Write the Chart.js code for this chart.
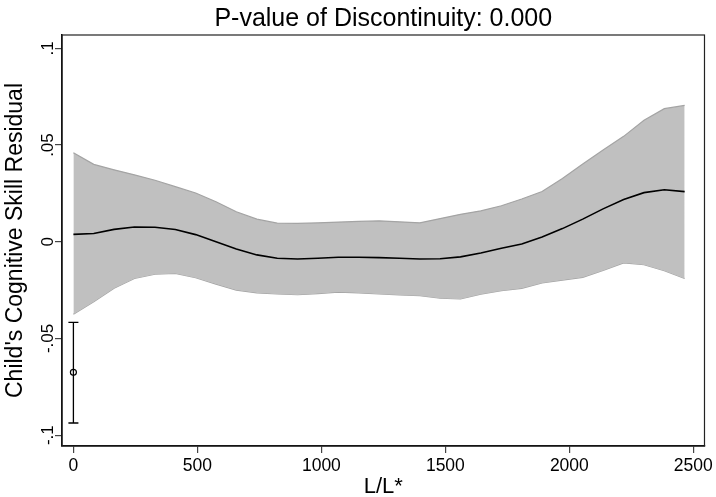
<!DOCTYPE html>
<html>
<head>
<meta charset="utf-8">
<script src="https://cdn.jsdelivr.net/npm/chart.js@4.4.1/dist/chart.umd.min.js"></script>
<style>
  html, body { margin: 0; padding: 0; background: #fff; }
  #wrap { width: 716px; height: 497px; }
</style>
</head>
<body>
<div id="wrap"><canvas id="rd"></canvas></div>
<script>
// evaluation grid of the local fit (L/L*)
const xGrid = [0, 82, 164, 246, 329, 411, 493, 575, 657, 740, 822, 904, 986, 1068, 1150,
  1233, 1315, 1397, 1479, 1561, 1643, 1726, 1808, 1890, 1972, 2054, 2136, 2219, 2301, 2383, 2465];
const fitMean = [0.0038, 0.0043, 0.0064, 0.0076, 0.0075, 0.0063, 0.0037, 0.0000, -0.0038, -0.0068,
  -0.0085, -0.0089, -0.0085, -0.0080, -0.0080, -0.0082, -0.0085, -0.0089, -0.0088, -0.0078,
  -0.0058, -0.0034, -0.0012, 0.0025, 0.0068, 0.0117, 0.0170, 0.0218, 0.0254, 0.0269, 0.0259];
const ciUpper = [0.0460, 0.0400, 0.0372, 0.0346, 0.0318, 0.0285, 0.0252, 0.0207, 0.0155, 0.0117,
  0.0096, 0.0095, 0.0098, 0.0102, 0.0105, 0.0108, 0.0103, 0.0098, 0.0120, 0.0142,
  0.0160, 0.0186, 0.0221, 0.0260, 0.0327, 0.0402, 0.0475, 0.0545, 0.0628, 0.0688, 0.0705];
const ciLower = [-0.0375, -0.0310, -0.0240, -0.0190, -0.0168, -0.0164, -0.0186, -0.0219, -0.0250, -0.0264,
  -0.0270, -0.0274, -0.0268, -0.0260, -0.0264, -0.0270, -0.0275, -0.0279, -0.0292, -0.0296,
  -0.0271, -0.0253, -0.0241, -0.0213, -0.0198, -0.0184, -0.0148, -0.0109, -0.0119, -0.0150, -0.0190];

// discontinuity estimate at the cutoff with its interval
const jumpX = [0];
const jumpEst = [-0.0675];
const jumpLo = [-0.0937];
const jumpHi = [-0.0417];

const xTicks = [0, 500, 1000, 1500, 2000, 2500];
const yTicks = [-0.1, -0.05, 0, 0.05, 0.1];
const yTickLabels = ['-.1', '-.05', '0', '.05', '.1'];

const FONT = 'Liberation Sans, Arial, Helvetica, sans-serif';

const pts = ys => xGrid.map((x, i) => ({ x: x, y: ys[i] }));

// whisker for the jump estimate, box around the plot region, rotated y tick labels
const extras = {
  id: 'extras',
  beforeDatasetsDraw(chart) {
    const { ctx, chartArea: a } = chart;
    ctx.save();
    ctx.strokeStyle = '#222';
    ctx.lineWidth = 1.2;
    ctx.strokeRect(a.left, a.top, a.right - a.left, a.bottom - a.top);
    ctx.restore();
  },
  afterDatasetsDraw(chart) {
    const { ctx, scales: { x, y } } = chart;
    ctx.save();
    ctx.strokeStyle = '#000';
    ctx.lineWidth = 1.3;
    jumpX.forEach((jx, i) => {
      const px = x.getPixelForValue(jx);
      const lo = y.getPixelForValue(jumpLo[i]);
      const hi = y.getPixelForValue(jumpHi[i]);
      ctx.beginPath();
      ctx.moveTo(px, lo); ctx.lineTo(px, hi);
      ctx.moveTo(px - 5, lo); ctx.lineTo(px + 5, lo);
      ctx.moveTo(px - 5, hi); ctx.lineTo(px + 5, hi);
      ctx.stroke();
    });
    ctx.restore();
  },
  afterDraw(chart) {
    const { ctx, scales: { y } } = chart;
    ctx.save();
    ctx.fillStyle = '#000';
    ctx.font = '17px ' + FONT;
    ctx.textAlign = 'center';
    ctx.textBaseline = 'alphabetic';
    yTicks.forEach((v, i) => {
      ctx.save();
      ctx.translate(53, y.getPixelForValue(v));
      ctx.rotate(-Math.PI / 2);
      ctx.fillText(yTickLabels[i], 0, 0);
      ctx.restore();
    });
    ctx.restore();
  }
};

new Chart(document.getElementById('rd'), {
  type: 'line',
  data: {
    datasets: [
      {
        label: 'upper',
        data: pts(ciUpper),
        borderColor: '#a4a4a4',
        borderWidth: 1.2,
        backgroundColor: '#c0c0c0',
        fill: '+1',
        pointRadius: 0,
        tension: 0,
        order: 3
      },
      {
        label: 'lower',
        data: pts(ciLower),
        borderColor: '#a4a4a4',
        borderWidth: 1.2,
        pointRadius: 0,
        fill: false,
        tension: 0,
        order: 3
      },
      {
        label: 'fit',
        data: pts(fitMean),
        borderColor: '#000',
        borderWidth: 1.6,
        pointRadius: 0,
        fill: false,
        tension: 0,
        order: 2
      },
      {
        label: 'jump',
        data: jumpX.map((x, i) => ({ x: x, y: jumpEst[i] })),
        showLine: false,
        pointStyle: 'circle',
        pointRadius: 3,
        pointBorderWidth: 1.2,
        pointBorderColor: '#000',
        pointBackgroundColor: 'rgba(0,0,0,0)',
        order: 1
      }
    ]
  },
  options: {
    responsive: true,
    maintainAspectRatio: false,
    animation: false,
    events: [],
    layout: { padding: { left: 0, right: 11, top: 0, bottom: 0 } },
    plugins: {
      legend: { display: false },
      tooltip: { enabled: false },
      title: {
        display: true,
        fullSize: false,
        text: 'P-value of Discontinuity: 0.000',
        color: '#000',
        font: { family: FONT, size: 25, weight: 'normal', lineHeight: 1.2 },
        padding: { top: 4, bottom: 1 }
      }
    },
    scales: {
      x: {
        type: 'linear',
        min: -46,
        max: 2545,
        afterBuildTicks: s => { s.ticks = xTicks.map(v => ({ value: v })); },
        afterFit: s => { s.height = 51; },
        border: { display: true, color: '#000', width: 1.5 },
        grid: { display: true, drawOnChartArea: false, drawTicks: true, tickLength: 7, color: '#444', lineWidth: 1.2 },
        ticks: { color: '#000', font: { family: FONT, size: 17.5 }, padding: 3, maxRotation: 0, callback: v => String(v) },
        title: {
          display: true,
          text: 'L/L*',
          color: '#000',
          font: { family: FONT, size: 22, lineHeight: 0.9 },
          padding: { top: 0, bottom: 0 }
        }
      },
      y: {
        type: 'linear',
        min: -0.1056,
        max: 0.1069,
        afterBuildTicks: s => { s.ticks = yTicks.map(v => ({ value: v })); },
        afterFit: s => { s.width = 62; },
        border: { display: true, color: '#000', width: 1.5 },
        grid: { display: true, drawOnChartArea: false, drawTicks: true, tickLength: 7, color: '#444', lineWidth: 1.2 },
        ticks: { display: false },
        title: {
          display: true,
          text: "Child's Cognitive Skill Residual",
          color: '#000',
          font: { family: FONT, size: 23, lineHeight: 1.2 },
          padding: { top: 2, bottom: 0 }
        }
      }
    }
  },
  plugins: [extras]
});
</script>
</body>
</html>
